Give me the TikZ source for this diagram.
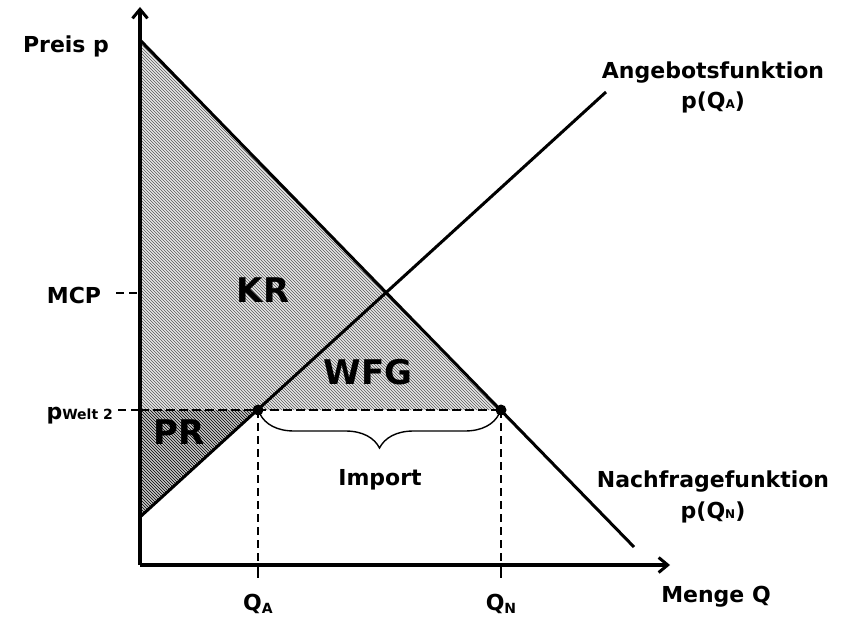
\documentclass[tikz,border=0pt]{standalone}
\usepackage{fontspec}
\setmainfont{DejaVu Sans}
\usetikzlibrary{arrows.meta,patterns,decorations.pathreplacing}
\begin{document}
\begin{tikzpicture}[x=1pt,y=-1pt,
  lbl/.style={font=\bfseries\fontsize{22}{26}\selectfont, inner sep=0pt},
  big/.style={font=\bfseries\fontsize{34}{38}\selectfont, inner sep=0pt},
  axis/.style={line width=3.4pt, -{Straight Barb[length=9pt,width=15pt,line width=3pt]}},
  curve/.style={line width=3pt},
  guide/.style={line width=1.8pt, dash pattern=on 8pt off 5pt},
  hguide/.style={line width=2.6pt, dash pattern=on 9pt off 4pt},
  dot/.style={circle, fill=black, inner sep=0pt, minimum size=11pt}]
\useasboundingbox (0,0) rectangle (848,617);
% key points
\coordinate (O) at (140,565);
\coordinate (Ytop) at (140,7);
\coordinate (Xend) at (670,565);
\coordinate (D1) at (140,40);
\coordinate (D2) at (634,547);
\coordinate (S1) at (140,517);
\coordinate (S2) at (606,92);
\coordinate (W) at (140,410);
\coordinate (Wl) at (118,410);
\coordinate (Ml) at (116,293);
\coordinate (Ma) at (140,293);
\coordinate (QAx) at (258,565);
\coordinate (QNx) at (501,565);
\coordinate (QAt) at (258,578);
\coordinate (QNt) at (501,578);
% fills
\fill[gray!18] (D1) -- (501,410) -- (W) -- cycle;
\fill[pattern=north west lines, pattern color=black!65] (D1) -- (501,410) -- (W) -- cycle;
\fill[gray!45] (W) -- (258,410) -- (S1) -- cycle;
\fill[pattern=north west lines, pattern color=black] (W) -- (258,410) -- (S1) -- cycle;
% nodes for points
\node[dot] (A) at (258,410) {};
\node[dot] (N) at (501,410) {};
% guides
\draw[guide] (Wl) -- (W);
\draw[hguide] (W) -- (N.center);
\draw[guide] (Ml) -- (Ma);
\draw[guide] (A.center) -- (QAx);
\draw[guide] (N.center) -- (QNx);
\draw[line width=1.4pt] (QAx) -- (QAt);
\draw[line width=1.4pt] (QNx) -- (QNt);
% curves
\draw[curve] (D1) -- (D2);
\draw[curve] (S1) -- (S2);
% axes
\draw[axis] (O) -- (Ytop);
\draw[axis] (O) -- (Xend);
% brace
\draw[line width=1.4pt, decorate, decoration={brace, mirror, amplitude=34pt, aspect=0.5}] (260,414) -- (499,414);
% labels
\node[lbl] (preis) at (66,46) {Preis p};
\node[lbl] (mcp) at (74,295) {MCP};
\node[lbl, anchor=base east] (pw) at (113,419) {p{\fontsize{14}{16}\selectfont Welt 2}};
\node[big] (kr) at (263,290) {KR};
\node[big] (wfg) at (368,372) {WFG};
\node[big] (pr) at (179,432) {PR};
\node[lbl] (imp) at (380,480) {Import};
\node[lbl] (ang) at (713,73) {Angebotsfunktion};
\node[lbl] (angp) at (713,102) {p(Q{\fontsize{12}{14}\selectfont A})};
\node[lbl] (nach) at (713,482) {Nachfragefunktion};
\node[lbl] (nachp) at (713,512) {p(Q{\fontsize{12}{14}\selectfont N})};
\node[lbl] (qa) at (258,604) {Q\raisebox{-3pt}{\fontsize{14}{16}\selectfont A}};
\node[lbl] (qn) at (501,604) {Q\raisebox{-3pt}{\fontsize{14}{16}\selectfont N}};
\node[lbl] (menge) at (716,597) {Menge Q};
\end{tikzpicture}
\end{document}
